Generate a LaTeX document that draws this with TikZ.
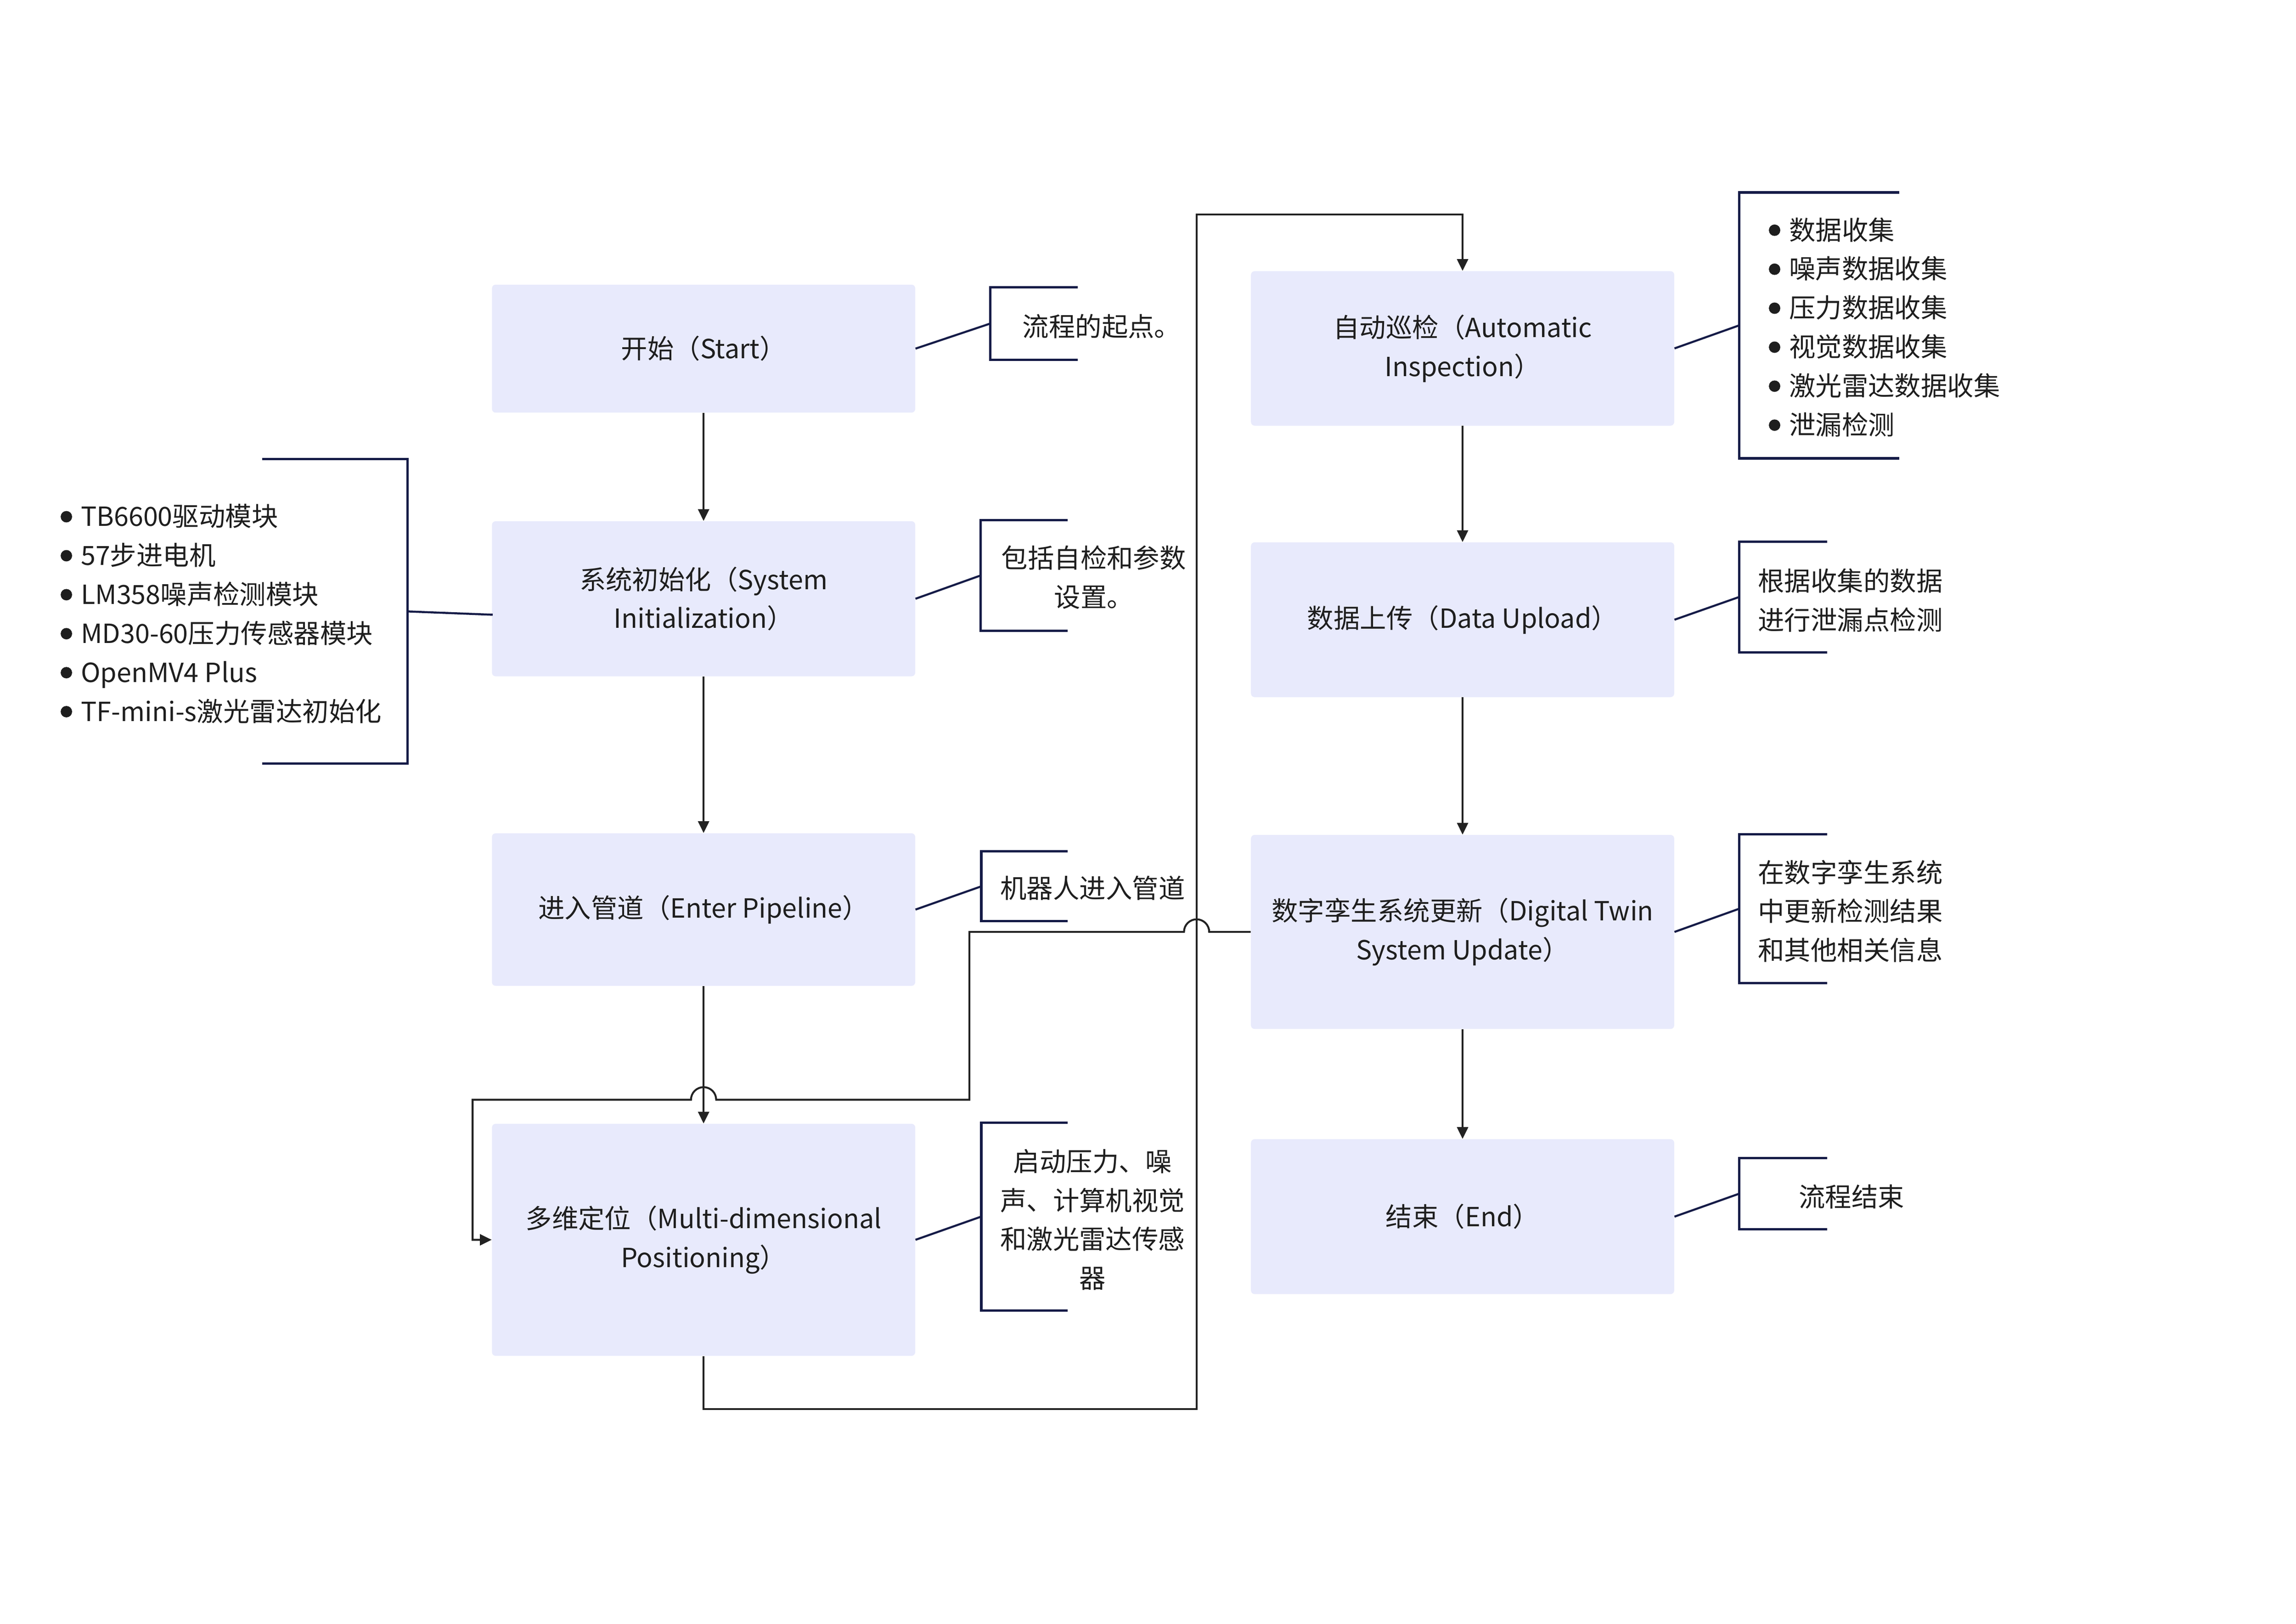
\documentclass[tikz,border=0pt]{standalone}
\usepackage{fontspec}
\setmainfont{Noto Sans CJK SC}
\usetikzlibrary{arrows.meta,calc}
\definecolor{boxfill}{HTML}{E8EAFC}
\definecolor{navy}{HTML}{151B47}
\definecolor{arr}{HTML}{222222}
\definecolor{txt}{HTML}{1E1E1E}
\newcommand\fs{\fontsize{18}{26.6}\selectfont}
\newcommand\bul{\tikz[baseline={(0pt,-6.5pt)}]\fill[txt] (0pt,0pt) circle[radius=3.9pt];\hspace{6pt}}
\begin{document}
\begin{tikzpicture}[x=1pt,y=-1pt,
  box/.style={draw=none,fill=boxfill,rounded corners=2.5pt,minimum width=288.8pt,inner sep=0pt,align=center,font=\fs,text=txt},
  note/.style={inner sep=0pt,font=\fs,text=txt},
  flow/.style={draw=arr,line width=1.3pt,-{Triangle[length=8pt,width=7.5pt]}},
  brk/.style={draw=navy,line width=1.6pt},
  conn/.style={draw=navy,line width=1.4pt}]
\fill[white] (0,0) rectangle (1566.7,1107.8);
\useasboundingbox (0,0) rectangle (1566.7,1107.8);

% main boxes
\node[box,minimum height=87.3pt] (start) at (480.1,237.85) {开始（Start）};
\node[box,minimum height=105.8pt] (sys) at (480.1,408.5) {系统初始化（System\\Initialization）};
\node[box,minimum height=104.1pt] (ep) at (480.1,620.55) {进入管道（Enter Pipeline）};
\node[box,minimum height=158.3pt] (md) at (480.1,845.85) {多维定位（Multi-dimensional\\Positioning）};
\node[box,minimum height=105.4pt] (ai) at (998,237.7) {自动巡检（Automatic\\Inspection）};
\node[box,minimum height=105.6pt] (du) at (998,422.8) {数据上传（Data Upload）};
\node[box,minimum height=132.4pt] (dt) at (998,635.8) {数字孪生系统更新（Digital Twin\\System Update）};
\node[box,minimum height=105.7pt] (fin) at (998,830.05) {结束（End）};

% flow arrows
\draw[flow] (start.south) -- (sys.north);
\draw[flow] (sys.south) -- (ep.north);
\draw[flow] (ep.south) -- (md.north);
\draw[flow] (ai.south) -- (du.north);
\draw[flow] (du.south) -- (dt.north);
\draw[flow] (dt.south) -- (fin.north);

\coordinate (c1) at (480.1,961.4);
\coordinate (c2) at (816.5,961.4);
\coordinate (c3) at (816.5,146.4);
\coordinate (c4) at (998,146.4);
\draw[flow] (md.south) -- (c1) -- (c2) -- (c3) -- (c4) -- (ai.north);

\coordinate (hA) at (816.5,635.8);
\coordinate (d1) at (661.5,635.8);
\coordinate (d2) at (661.5,750.3);
\coordinate (hB) at (480.1,750.3);
\coordinate (d3) at (322.5,750.3);
\coordinate (d4) at (322.5,845.85);
\draw[flow] (dt.west) -- ($(hA)+(8.6,0)$) arc[start angle=0,end angle=-180,radius=8.6]
  -- (d1) -- (d2) -- ($(hB)+(8.6,0)$) arc[start angle=0,end angle=-180,radius=8.6]
  -- (d3) -- (d4) -- (md.west);

% notes
\coordinate (nS) at (675.7,220.75);
\draw[brk] (735.3,196) -- (675.7,196) -- (675.7,245.5) -- (735.3,245.5);
\draw[conn] (start.east) -- (nS);
\node[note,anchor=west] (tS) at (697.5,222.8) {流程的起点。};

\coordinate (nSy) at (669.2,392.6);
\draw[brk] (728.4,354.8) -- (669.2,354.8) -- (669.2,430.4) -- (728.4,430.4);
\draw[conn] (sys.east) -- (nSy);
\node[note,align=center] (tSy) at (746.3,394) {包括自检和参数\\设置。};

\coordinate (nE) at (669.6,604.7);
\draw[brk] (728.4,580.9) -- (669.6,580.9) -- (669.6,628.5) -- (728.4,628.5);
\draw[conn] (ep.east) -- (nE);
\node[note] (tE) at (745.6,606) {机器人进入管道};

\coordinate (nM) at (669.6,830);
\draw[brk] (728.4,765.9) -- (669.6,765.9) -- (669.6,894.2) -- (728.4,894.2);
\draw[conn] (md.east) -- (nM);
\node[note,align=center] (tM) at (745.5,832.1) {启动压力、噪\\声、计算机视觉\\和激光雷达传感\\器};

\coordinate (nA) at (1186.7,222);
\draw[brk] (1296,131.3) -- (1186.7,131.3) -- (1186.7,312.7) -- (1296,312.7);
\draw[conn] (ai.east) -- (nA);
\node[note,align=left,anchor=west] (tA) at (1206.8,223.2) {\bul 数据收集\\\bul 噪声数据收集\\\bul 压力数据收集\\\bul 视觉数据收集\\\bul 激光雷达数据收集\\\bul 泄漏检测};

\coordinate (nD) at (1186.7,407.3);
\draw[brk] (1246.7,369.6) -- (1186.7,369.6) -- (1186.7,445) -- (1246.7,445);
\draw[conn] (du.east) -- (nD);
\node[note,align=left,anchor=west] (tD) at (1199.4,409.6) {根据收集的数据\\进行泄漏点检测};

\coordinate (nT) at (1186.7,620);
\draw[brk] (1246.7,569.1) -- (1186.7,569.1) -- (1186.7,670.8) -- (1246.7,670.8);
\draw[conn] (dt.east) -- (nT);
\node[note,align=left,anchor=west] (tT) at (1199.4,621.6) {在数字孪生系统\\中更新检测结果\\和其他相关信息};

\coordinate (nF) at (1186.7,814.4);
\draw[brk] (1246.7,790.2) -- (1186.7,790.2) -- (1186.7,838.6) -- (1246.7,838.6);
\draw[conn] (fin.east) -- (nF);
\node[note] (tF) at (1263.4,816.4) {流程结束};

% left list
\coordinate (nL) at (278.2,417.15);
\coordinate (sysL) at (336.2,419.4);
\draw[brk] (178.8,313.3) -- (278.2,313.3) -- (278.2,521) -- (178.8,521);
\draw[conn] (nL) -- (sysL);
\node[note,align=left,anchor=west] (tL) at (41.2,418.7) {\bul TB6600驱动模块\\\bul 57步进电机\\\bul LM358噪声检测模块\\\bul MD30-60压力传感器模块\\\bul OpenMV4 Plus\\\bul TF-mini-s激光雷达初始化};
\end{tikzpicture}
\end{document}
